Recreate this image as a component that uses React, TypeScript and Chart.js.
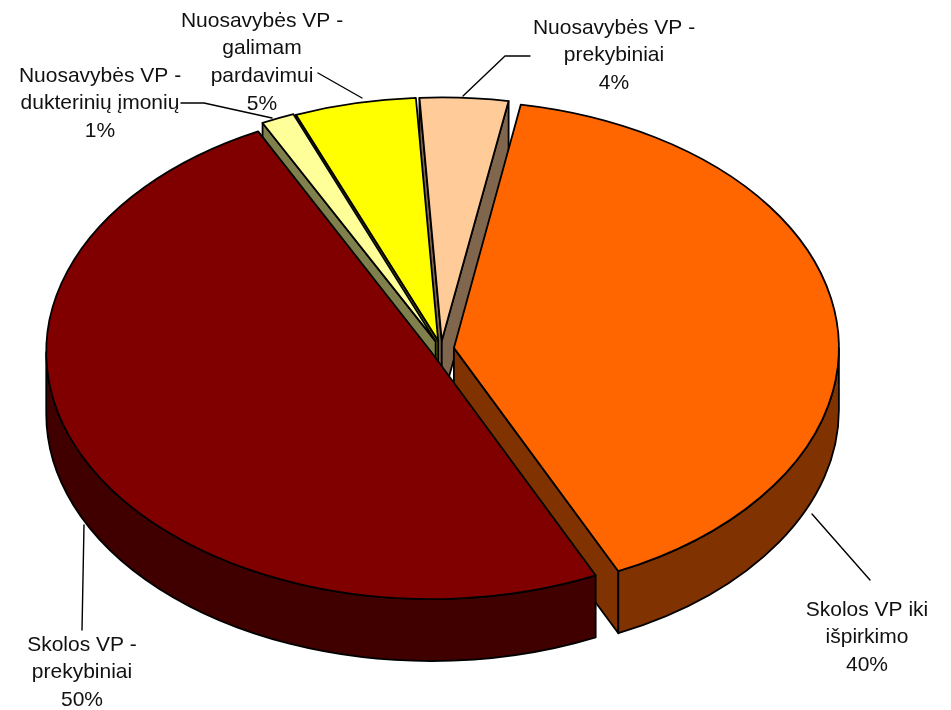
import React, { useEffect, useRef } from "react";
import { Chart, registerables } from "chart.js";

Chart.register(...registerables);

const categories = [
  "Skolos VP iki išpirkimo",
  "Skolos VP - prekybiniai",
  "Nuosavybės VP - dukterinių įmonių",
  "Nuosavybės VP - galimam pardavimui",
  "Nuosavybės VP - prekybiniai",
];
const values = [40.2, 49.6, 1.4, 5.1, 3.7];
const topColors = ["#FF6600", "#800000", "#FFFF99", "#FFFF00", "#FFCC99"];
const wallColors = ["#803300", "#400000", "#80804D", "#808000", "#80664D"];
const labelLines = [
  ["Skolos VP iki", "išpirkimo", "40%"],
  ["Skolos VP -", "prekybiniai", "50%"],
  ["Nuosavybės VP -", "dukterinių įmonių", "1%"],
  ["Nuosavybės VP -", "galimam", "pardavimui", "5%"],
  ["Nuosavybės VP -", "prekybiniai", "4%"],
];
const labelAnchors = [
  { x: 867, y: 610 },
  { x: 82, y: 645 },
  { x: 100, y: 76 },
  { x: 262, y: 21 },
  { x: 614, y: 28 },
];
const leaderLines = [
  [[812, 514], [870, 580]],
  [[84, 525], [82, 630]],
  [[181, 103], [204, 103], [272, 118]],
  [[318, 73], [362, 98]],
  [[530, 56], [505, 56], [463, 96]],
];

const CENTER = { x: 441, y: 349 };
const RX = 385;
const RY = 247;
const DEPTH = 62;
const LINE_H = 27.7;
const explode = [12, 10, 12, 12, 12];
const rimFactor = [1, 1, 0.99, 0.985, 0.985];
const drawOrder = [4, 3, 2, 0, 1];

const pie3d = {
  id: "pie3d",
  beforeDatasetDraw() {
    return false;
  },
  afterDatasetsDraw(chart: any) {
    const ctx: CanvasRenderingContext2D = chart.ctx;
    const arcs = chart.getDatasetMeta(0).data;
    const R0 = arcs[0].outerRadius;
    const sx = RX / R0;
    const sy0 = RY / R0;
    ctx.lineJoin = "round";
    ctx.lineCap = "round";

    for (const i of drawOrder) {
      const arc = arcs[i];
      const s = arc.startAngle;
      const e = arc.endAngle;
      const mid = (s + e) / 2;
      const ry = RY * rimFactor[i];
      const sy = sy0 * rimFactor[i];
      const cx = CENTER.x + Math.cos(mid) * explode[i] * sx;
      const cy = CENTER.y + Math.sin(mid) * explode[i] * sy0;
      const rim = (a: number) => [cx + RX * Math.cos(a), cy + ry * Math.sin(a)];
      ctx.strokeStyle = "#000";
      ctx.lineWidth = 1.8;
      ctx.fillStyle = wallColors[i];

      const quad = (a: number) => {
        const [px, py] = rim(a);
        ctx.beginPath();
        ctx.moveTo(cx, cy);
        ctx.lineTo(px, py);
        ctx.lineTo(px, py + DEPTH);
        ctx.lineTo(cx, cy + DEPTH);
        ctx.closePath();
        ctx.fill();
        ctx.stroke();
      };
      if (Math.cos(s) < 0) quad(s);
      if (Math.cos(e) > 0) quad(e);

      for (let k = -1; k <= 1; k++) {
        const lo = Math.max(s, 2 * Math.PI * k);
        const hi = Math.min(e, Math.PI + 2 * Math.PI * k);
        if (hi <= lo) continue;
        ctx.beginPath();
        ctx.ellipse(cx, cy, RX, ry, 0, lo, hi);
        ctx.ellipse(cx, cy + DEPTH, RX, ry, 0, hi, lo, true);
        ctx.closePath();
        ctx.fill();
        ctx.stroke();
      }

      ctx.save();
      ctx.translate(cx, cy);
      ctx.scale(sx, sy);
      ctx.translate(-arc.x, -arc.y);
      arc.draw(ctx);
      ctx.restore();

      ctx.beginPath();
      ctx.moveTo(cx, cy);
      ctx.ellipse(cx, cy, RX, ry, 0, s, e);
      ctx.closePath();
      ctx.stroke();
    }

    ctx.strokeStyle = "#000";
    ctx.lineWidth = 1.4;
    for (const pts of leaderLines) {
      ctx.beginPath();
      pts.forEach(([x, y], j) => (j ? ctx.lineTo(x, y) : ctx.moveTo(x, y)));
      ctx.stroke();
    }

    ctx.fillStyle = "#111";
    ctx.font = '21px "Liberation Sans", Arial, sans-serif';
    ctx.textAlign = "center";
    ctx.textBaseline = "middle";
    labelLines.forEach((lines, i) => {
      lines.forEach((t, j) => {
        ctx.fillText(t, labelAnchors[i].x, labelAnchors[i].y + j * LINE_H);
      });
    });
  },
};

export default function App() {
  const ref = useRef<HTMLCanvasElement>(null);
  useEffect(() => {
    document.body.style.margin = "0";
    document.body.style.background = "#fff";
    const chart = new Chart(ref.current as HTMLCanvasElement, {
      type: "pie",
      data: {
        labels: categories,
        datasets: [
          {
            data: values,
            backgroundColor: topColors,
            borderWidth: 0,
            clip: false,
          } as any,
        ],
      },
      options: {
        responsive: false,
        animation: false,
        rotation: 10,
        layout: { padding: 0 },
        plugins: { legend: { display: false }, tooltip: { enabled: false } },
      },
      plugins: [pie3d as any],
    });
    return () => chart.destroy();
  }, []);
  return <canvas ref={ref} width={951} height={710} style={{ display: "block" }} />;
}
